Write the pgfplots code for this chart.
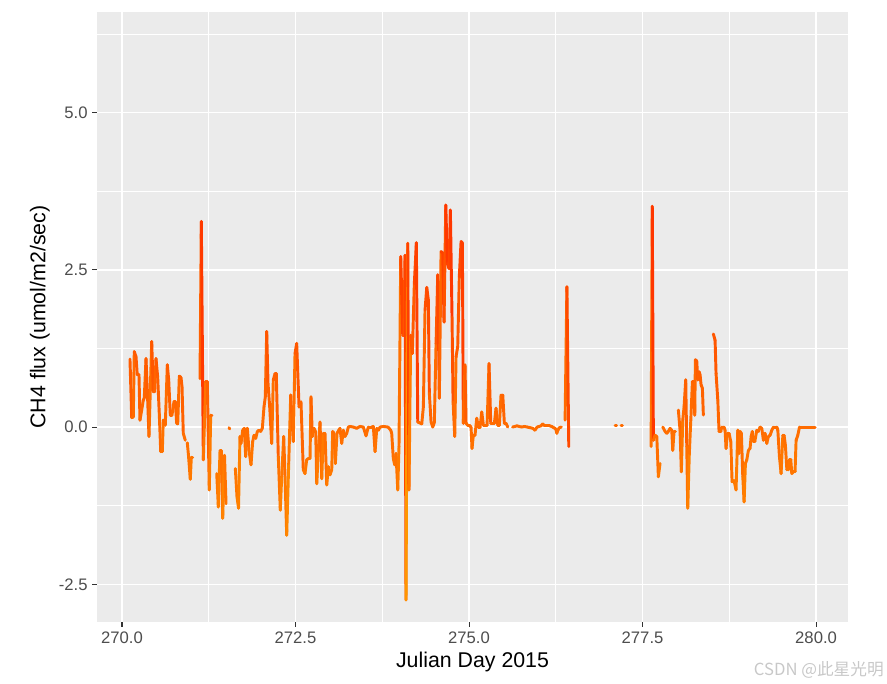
\documentclass[border=0pt]{standalone}
\usepackage{fontspec}
\setmainfont{Liberation Sans}
\newfontfamily\cjk{Noto Sans CJK SC}
\usepackage{pgfplots}
\pgfplotsset{compat=1.18}
\definecolor{panelbg}{HTML}{EBEBEB}
\definecolor{tickcol}{HTML}{333333}
\definecolor{labcol}{HTML}{4D4D4D}
\definecolor{wmark}{HTML}{C8C8C8}
\pgfplotsset{ch4line/.style={mesh, point meta=y, shader=flat corner, line width=2.2pt,
  line cap=round, line join=round, no marks}}
\begin{document}
\begin{tikzpicture}
\begin{axis}[
  scale only axis, width=563.25pt, height=457.5pt,
  xmin=269.64, xmax=280.46, ymin=-3.10, ymax=6.60,
  axis background/.style={fill=panelbg},
  axis line style={draw=none},
  xtick={270,272.5,275,277.5,280},
  xticklabels={270.0,272.5,275.0,277.5,280.0},
  ytick={-2.5,0,2.5,5},
  yticklabels={-2.5,0.0,2.5,5.0},
  minor xtick={271.25,273.75,276.25,278.75},
  minor ytick={-1.25,1.25,3.75,6.25},
  grid=both,
  major grid style={white, line width=1.1pt},
  minor grid style={white, line width=0.55pt},
  tick align=outside, xtick pos=bottom, ytick pos=left,
  major tick length=3.5pt, minor tick length=0pt,
  tick style={tickcol, line width=0.8pt},
  ticklabel style={font=\fontsize{12.5}{15}\selectfont, text=labcol},
  xlabel={Julian Day 2015},
  ylabel={CH4 flux (umol/m2/sec)},
  label style={font=\fontsize{16}{19}\selectfont},
  colormap={ch4}{rgb255=(255,150,0) rgb255=(255,55,0)},
  point meta min=-2.75, point meta max=3.53,
]
% segments between gaps in the record
\addplot[ch4line] coordinates {
(270.115,1.08)(270.140,0.15)(270.163,0.16)(270.177,1.20)(270.202,1.12)(270.220,0.83)(270.245,0.83)(270.259,0.11)(270.284,0.27)(270.307,0.43)(270.321,0.46)(270.346,1.09)(270.365,0.59)(270.389,-0.15)(270.428,1.36)(270.451,0.56)(270.471,0.56)(270.490,1.09)(270.514,0.80)(270.537,0.22)(270.558,-0.39)(270.581,-0.39)(270.595,0.11)(270.624,0.03)(270.653,0.99)(270.673,0.75)(270.696,0.19)(270.720,0.19)(270.749,0.40)(270.768,0.40)(270.788,0.06)(270.803,0.05)(270.826,0.81)(270.850,0.79)(270.865,0.64)(270.883,-0.10)(270.912,-0.21)
};
\addplot[ch4line] coordinates {
(270.941,-0.25)(270.958,-0.45)(270.984,-0.83)(270.999,-0.48)(271.019,-0.48)
};
\addplot[ch4line] coordinates {
(271.124,0.77)(271.143,3.27)(271.172,-0.52)(271.206,0.72)(271.229,0.72)(271.258,-1.00)(271.278,0.19)(271.297,0.19)
};
\addplot[ch4line] coordinates {
(271.365,-0.74)(271.388,-1.27)(271.412,-0.38)(271.431,-0.38)(271.451,-1.45)(271.477,-0.45)(271.499,-1.22)
};
\addplot[ch4line] coordinates {(271.542,-0.01)(271.552,-0.03)};
\addplot[ch4line] coordinates {
(271.633,-0.66)(271.657,-1.11)(271.679,-1.29)(271.700,-0.15)(271.715,-0.26)(271.739,-0.05)(271.762,-0.02)(271.782,-0.47)(271.806,-0.02)(271.830,-0.37)(271.859,-0.60)(271.883,-0.23)(271.902,-0.13)(271.927,-0.18)(271.950,-0.07)(271.974,-0.05)(271.999,-0.07)(272.022,-0.02)(272.046,0.32)(272.065,0.48)(272.085,1.52)(272.104,0.69)(272.128,0.32)(272.157,-0.26)(272.180,0.75)(272.205,0.85)(272.223,0.85)(272.252,-0.47)(272.281,-1.32)(272.301,-0.79)(272.330,-0.15)(272.349,-0.79)(272.373,-1.72)(272.402,-0.58)(272.431,0.51)(272.445,0.22)(272.468,-0.23)(272.493,1.17)(272.517,1.33)(272.551,0.32)(272.579,0.40)(272.612,-0.68)(272.637,-0.74)(272.661,-0.52)(272.685,-0.50)(272.709,-0.50)(272.723,0.48)(272.742,-0.15)(272.767,-0.02)(272.791,-0.08)(272.806,-0.90)(272.829,-0.37)(272.853,0.08)(272.878,-0.82)(272.901,-0.10)(272.925,-0.10)(272.950,-0.92)(272.973,-0.63)(272.997,-0.76)(273.022,-0.68)(273.036,-0.07)(273.055,-0.10)(273.074,-0.58)(273.098,-0.10)(273.123,-0.05)(273.141,-0.02)(273.166,-0.26)(273.189,-0.05)(273.213,-0.15)(273.238,-0.10)(273.261,0.00)(273.285,0.01)(273.333,0.00)(273.382,-0.02)(273.429,0.01)(273.477,0.00)(273.516,-0.14)(273.549,0.00)(273.598,0.00)(273.621,0.01)(273.646,-0.39)(273.671,-0.02)(273.694,-0.05)(273.718,0.00)(273.766,0.01)(273.833,0.00)(273.872,-0.05)(273.886,-0.10)(273.909,-0.50)(273.929,-0.60)(273.948,-0.42)(273.973,-1.00)(273.991,-0.31)(274.016,2.71)(274.045,1.46)(274.063,1.46)(274.078,2.73)(274.092,-2.75)(274.117,2.92)(274.135,-1.00)(274.160,1.46)(274.183,1.17)(274.212,2.28)(274.241,2.93)(274.261,0.08)(274.284,0.07)(274.319,0.05)(274.342,0.32)(274.366,1.86)(274.391,2.22)(274.414,2.02)(274.428,0.54)(274.453,0.08)(274.477,0.00)(274.500,0.07)(274.525,1.33)(274.549,2.42)(274.572,0.46)(274.597,2.79)(274.621,2.77)(274.640,1.67)(274.665,3.53)(274.688,2.60)(274.712,2.52)(274.731,3.45)(274.755,1.75)(274.770,0.40)(274.794,-0.15)(274.813,1.12)(274.837,1.28)(274.860,2.39)(274.885,2.95)(274.904,2.93)(274.918,0.06)(274.942,0.99)(274.957,0.06)(274.981,0.03)(275.004,0.03)(275.029,0.00)(275.043,-0.34)(275.062,-0.13)(275.086,-0.13)(275.111,0.14)(275.134,0.00)(275.159,0.00)(275.183,0.24)(275.207,0.03)(275.231,0.03)(275.260,0.03)(275.288,1.01)(275.313,0.06)(275.339,0.06)(275.365,0.06)(275.389,0.30)(275.414,0.03)(275.437,0.03)(275.461,0.51)(275.486,0.51)(275.509,0.06)(275.533,0.06)(275.558,0.00)
};
\addplot[ch4line] coordinates {
(275.627,0.00)(275.66,0.01)(275.69,0.02)(275.72,0.01)(275.76,0.00)(275.80,0.01)(275.84,0.00)(275.88,-0.01)(275.92,-0.02)(275.95,-0.05)(275.98,0.00)(276.01,0.01)(276.04,0.02)(276.06,0.05)(276.09,0.02)(276.12,0.02)(276.16,0.02)(276.19,0.01)(276.22,-0.01)(276.25,-0.03)(276.265,-0.10)(276.28,-0.05)(276.30,-0.01)(276.33,0.00)
};
\addplot[ch4line] coordinates {(276.384,0.11)(276.410,2.23)(276.437,-0.31)};
\addplot[ch4line] coordinates {(277.105,0.03)(277.125,0.03)};
\addplot[ch4line] coordinates {(277.190,0.02)(277.210,0.02)};
\addplot[ch4line] coordinates {
(277.623,-0.31)(277.640,3.51)(277.656,-0.21)(277.680,-0.13)(277.705,-0.15)(277.728,-0.79)(277.752,-0.58)
};
\addplot[ch4line] coordinates {
(277.791,0.00)(277.825,-0.07)(277.849,-0.10)(277.872,-0.07)(277.896,-0.02)(277.921,-0.05)(277.935,-0.37)(277.954,-0.07)(277.973,-0.07)
};
\addplot[ch4line] coordinates {
(278.016,0.27)(278.040,-0.05)(278.059,-0.71)(278.079,0.11)(278.098,0.32)(278.122,0.75)(278.137,-0.31)(278.151,-1.29)(278.174,-0.42)(278.195,0.11)(278.218,0.72)(278.242,0.72)(278.252,0.19)(278.261,1.07)(278.281,1.05)(278.295,0.75)(278.314,0.88)(278.329,0.83)(278.343,0.67)(278.362,0.62)(278.376,0.19)
};
\addplot[ch4line] coordinates {
(278.520,1.48)(278.545,1.38)(278.559,0.85)(278.584,0.43)(278.602,-0.07)(278.627,-0.07)(278.641,0.00)(278.674,0.00)(278.689,-0.05)(278.703,-0.34)(278.722,-0.10)(278.746,-0.10)(278.771,-0.23)(278.790,-0.87)(278.818,-0.85)(278.847,-1.00)(278.872,-0.05)(278.890,-0.42)(278.905,-0.07)(278.924,-0.10)(278.944,-0.79)(278.963,-1.19)(278.982,-0.58)(279.002,-0.52)(279.025,-0.37)(279.049,-0.34)(279.064,-0.15)(279.082,-0.07)(279.097,-0.23)(279.117,-0.23)(279.146,-0.05)(279.169,-0.07)(279.193,0.00)(279.218,-0.02)(279.241,-0.21)(279.265,-0.10)(279.290,-0.26)(279.313,-0.15)(279.338,-0.13)(279.362,-0.05)(279.386,0.00)(279.435,0.00)(279.449,-0.05)(279.472,-0.47)(279.496,-0.74)(279.521,-0.13)(279.539,-0.13)(279.558,-0.29)(279.579,-0.68)(279.602,-0.68)(279.616,-0.52)(279.636,-0.52)(279.650,-0.74)(279.673,-0.71)(279.697,-0.71)(279.712,-0.21)(279.737,-0.13)(279.761,0.00)(279.800,0.00)(279.850,0.00)(279.900,0.00)(279.987,0.00)
};
\coordinate (pSW) at (rel axis cs:0,0);
\coordinate (pSE) at (rel axis cs:1,0);
\coordinate (pNE) at (rel axis cs:1,1);
\end{axis}
\node[anchor=base east, inner sep=0pt, text=wmark, font=\cjk\fontsize{12.5}{15}\selectfont]
  at ([xshift=27pt,yshift=-39.75pt]pSE) {CSDN @此星光明};
\pgfresetboundingbox
\path[use as bounding box] ([xshift=-72.75pt,yshift=-45.75pt]pSW) rectangle ([xshift=29.25pt,yshift=9pt]pNE);
\end{tikzpicture}
\end{document}
